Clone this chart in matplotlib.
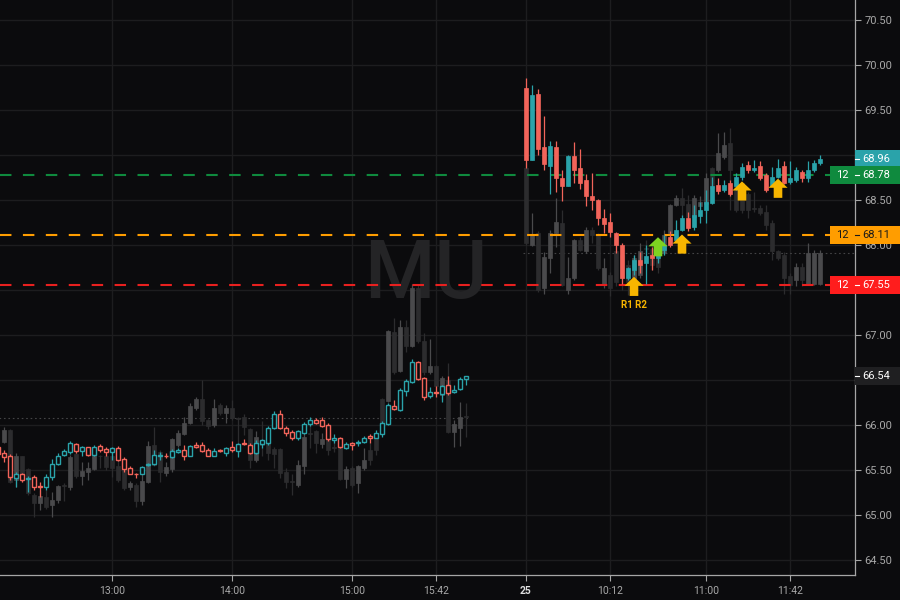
import numpy as np
import matplotlib
matplotlib.use("Agg")
import matplotlib.pyplot as plt
from matplotlib.path import Path
from matplotlib.patches import Rectangle
import matplotlib.transforms as mtransforms

# ---- MU, 3 min bars, day 1 (12:03 - 15:57), bar index 0..78
o1 = [65.76,65.69,65.65,65.41,65.45,65.40,65.42,65.32,65.31,65.42,
      65.57,65.67,65.70,65.79,65.71,65.75,65.67,65.77,65.73,65.70,
      65.74,65.62,65.52,65.46,65.46,65.55,65.57,65.66,65.66,65.64,
      65.70,65.72,65.66,65.78,65.78,65.72,65.66,65.72,65.69,65.76,
      65.71,65.80,65.78,65.69,65.79,65.80,65.97,66.12,65.97,65.92,
      65.85,65.91,66.01,66.06,66.06,66.00,65.83,65.85,65.74,65.80,
      65.80,65.81,65.88,65.86,65.90,66.01,66.21,66.17,66.38,66.48,
      66.70,66.52,66.32,66.37,66.34,66.44,66.37,66.40,66.51]
h1 = [65.78,65.72,65.68,65.48,65.47,65.43,65.44,65.37,65.46,65.62,
      65.69,65.73,65.82,65.80,65.77,65.76,65.78,65.79,65.76,65.76,
      65.77,65.64,65.54,65.47,65.54,65.58,65.72,65.70,65.69,65.73,
      65.74,65.78,65.78,65.81,65.81,65.74,65.74,65.73,65.75,65.82,
      65.80,65.84,65.80,65.83,65.84,65.99,66.15,66.17,65.99,65.94,
      65.94,66.03,66.09,66.08,66.09,66.02,65.90,65.87,65.81,65.81,
      65.83,65.88,65.90,65.94,66.04,66.24,66.28,66.41,66.51,66.73,
      66.71,66.53,66.42,66.43,66.44,66.54,66.44,66.53,66.54]
l1 = [65.63,65.59,65.39,65.31,65.37,65.26,65.28,65.20,65.28,65.39,
      65.56,65.65,65.68,65.69,65.65,65.66,65.66,65.70,65.65,65.61,
      65.60,65.48,65.45,65.41,65.45,65.54,65.56,65.61,65.63,65.63,
      65.69,65.61,65.65,65.74,65.70,65.65,65.65,65.70,65.65,65.70,
      65.64,65.78,65.68,65.68,65.74,65.78,65.95,65.95,65.88,65.83,
      65.83,65.90,65.99,66.01,65.98,65.82,65.80,65.74,65.73,65.72,
      65.77,65.80,65.80,65.85,65.87,66.00,66.17,66.16,66.32,66.47,
      66.50,66.28,66.30,66.31,66.26,66.33,66.35,66.39,66.44]
c1 = [65.68,65.64,65.42,65.46,65.39,65.41,65.31,65.31,65.42,65.57,
      65.66,65.71,65.80,65.71,65.76,65.67,65.76,65.72,65.70,65.74,
      65.61,65.51,65.46,65.45,65.53,65.57,65.67,65.67,65.65,65.71,
      65.72,65.66,65.77,65.75,65.71,65.66,65.71,65.71,65.74,65.72,
      65.79,65.79,65.69,65.80,65.83,65.97,66.12,65.97,65.91,65.85,
      65.93,66.01,66.05,66.02,65.99,65.84,65.86,65.75,65.79,65.78,
      65.81,65.86,65.86,65.91,66.02,66.22,66.18,66.39,66.49,66.70,
      66.51,66.31,66.37,66.35,66.43,66.36,66.39,66.51,66.54]

# ---- MU day 2 (the 25th, 09:30 - 11:57), bar index 88..137
o2 = [69.74,68.94,69.68,69.09,68.88,69.09,68.74,68.66,68.99,68.86,
      68.72,68.54,68.50,68.30,68.26,68.13,68.00,67.63,67.72,67.83,
      67.80,67.89,67.85,67.94,68.09,68.06,68.17,68.30,68.20,68.32,
      68.39,68.47,68.67,68.61,68.69,68.65,68.76,68.89,68.83,68.88,
      68.78,68.65,68.76,68.88,68.70,68.72,68.81,68.74,68.83,68.91]
h2 = [69.85,69.78,69.73,69.43,69.15,69.15,68.83,69.00,69.14,69.07,
      68.79,68.80,68.51,68.40,68.35,68.14,68.02,67.76,67.89,67.92,
      68.00,67.98,67.98,68.11,68.15,68.28,68.33,68.37,68.44,68.48,
      68.61,68.76,68.74,68.72,68.72,68.80,68.91,68.93,68.94,68.93,
      68.80,68.87,68.96,68.93,68.93,68.87,68.83,68.93,68.94,69.00]
l2 = [68.85,68.94,69.00,68.83,68.57,68.59,68.49,68.65,68.69,68.62,
      68.43,68.39,68.22,68.13,68.09,67.91,67.57,67.61,67.67,67.69,
      67.57,67.72,67.80,67.89,67.98,68.04,68.15,68.15,68.17,68.24,
      68.24,68.46,68.57,68.59,68.54,68.61,68.72,68.80,68.81,68.72,
      68.59,68.65,68.74,68.68,68.68,68.70,68.70,68.70,68.81,68.89]
c2 = [68.94,69.67,69.07,68.90,69.10,68.74,68.65,68.99,68.83,68.69,
      68.54,68.50,68.30,68.23,68.14,68.00,67.63,67.74,67.83,67.78,
      67.88,67.85,67.94,68.00,68.00,68.17,68.30,68.19,68.33,68.39,
      68.48,68.66,68.60,68.67,68.57,68.76,68.87,68.83,68.85,68.74,
      68.61,68.76,68.85,68.69,68.74,68.83,68.74,68.83,68.91,68.96]

# ---- grey comparison series, same bars
nan = np.nan
go1 = [nan,65.81,65.94,65.39,65.65,65.51,65.22,65.13,65.20,65.11,
       65.17,65.33,65.31,65.68,65.43,65.48,65.51,65.66,65.66,65.66,
       65.54,65.50,65.31,65.33,65.15,65.37,65.78,65.70,65.47,65.51,
       65.78,65.90,66.02,66.19,66.29,66.05,66.00,66.22,66.13,66.19,
       66.08,66.09,65.96,65.61,65.79,65.81,65.73,65.73,65.48,65.38,
       65.33,65.54,65.91,65.93,65.79,65.83,65.75,65.74,65.40,65.52,
       65.35,65.52,65.72,65.86,66.29,66.27,67.03,66.60,67.09,66.88,
       67.52,66.93,66.59,66.65,66.33,66.50,65.92,65.97,66.10]
gh1 = [nan,65.98,65.95,65.69,65.66,65.52,65.24,65.28,65.28,65.26,
       65.33,65.35,65.67,65.70,65.59,65.59,65.67,65.67,65.68,65.70,
       65.67,65.52,65.38,65.35,65.50,65.82,65.98,65.72,65.59,65.85,
       65.94,66.09,66.24,66.31,66.50,66.07,66.29,66.24,66.22,66.28,
       66.09,66.12,65.97,65.93,66.04,65.83,65.76,65.74,65.52,65.46,
       65.61,65.91,66.00,65.94,65.91,65.88,65.83,65.78,65.54,65.54,
       65.56,65.74,65.80,65.91,66.30,67.06,67.19,67.17,67.17,67.57,
       67.56,67.02,66.95,66.67,66.54,66.69,66.06,66.25,66.24]
gl1 = [nan,65.80,65.35,65.31,65.37,65.22,64.98,65.05,65.07,64.98,
       65.13,65.15,65.28,65.41,65.33,65.39,65.50,65.52,65.50,65.42,
       65.37,65.28,65.28,65.09,65.11,65.35,65.54,65.37,65.43,65.48,
       65.76,65.89,66.01,66.17,66.00,65.96,65.98,66.11,66.02,66.06,
       65.66,65.89,65.52,65.59,65.65,65.61,65.52,65.41,65.30,65.22,
       65.31,65.46,65.74,65.69,65.74,65.67,65.70,65.39,65.30,65.31,
       65.24,65.50,65.56,65.67,65.98,66.26,66.57,66.59,66.81,66.87,
       66.91,66.56,66.57,66.39,66.28,65.91,65.76,65.77,65.87]
gc1 = [nan,65.94,65.37,65.66,65.39,65.24,65.13,65.21,65.09,65.17,
       65.32,65.32,65.64,65.43,65.49,65.52,65.66,65.65,65.53,65.52,
       65.39,65.30,65.35,65.16,65.38,65.77,65.56,65.48,65.53,65.84,
       65.91,66.02,66.21,66.29,66.04,65.99,66.19,66.13,66.19,66.08,
       66.07,65.98,65.61,65.87,65.78,65.69,65.68,65.47,65.37,65.37,
       65.56,65.87,65.90,65.80,65.84,65.72,65.74,65.40,65.51,65.33,
       65.54,65.61,65.61,65.72,66.01,67.04,66.59,67.09,66.88,67.52,
       66.93,66.59,66.65,66.43,66.52,65.92,66.01,66.09,66.09]
go2 = [68.85,68.00,68.13,67.52,67.86,68.13,68.24,67.50,67.63,68.06,
       67.93,68.17,68.11,67.57,67.67,67.93,67.89,67.78,67.59,67.67,
       67.97,67.96,67.93,67.91,68.13,68.44,68.52,68.46,68.31,68.43,
       68.46,68.85,68.83,68.98,69.13,68.72,68.69,68.57,68.41,68.41,
       68.37,68.24,67.93,67.89,67.65,67.61,67.76,67.57,67.57,67.57]
gh2 = [68.91,68.35,68.15,67.92,68.17,68.52,68.39,67.87,68.07,68.09,
       68.20,68.20,68.13,67.85,67.70,68.04,67.94,67.83,67.89,68.02,
       68.06,68.00,67.98,68.17,68.46,68.55,68.63,68.55,68.55,68.54,
       68.80,68.87,69.24,69.26,69.30,68.74,68.70,68.59,68.59,68.44,
       68.44,68.28,67.94,67.92,67.69,67.80,67.80,68.02,67.94,67.94]
gl2 = [68.00,67.99,67.48,67.46,67.69,67.98,67.54,67.46,67.61,67.93,
       67.91,68.02,67.72,67.52,67.43,67.54,67.50,67.44,67.50,67.63,
       67.85,67.72,67.69,67.89,68.02,68.43,68.20,68.24,68.28,68.37,
       68.35,68.46,68.81,68.96,68.39,68.37,68.35,68.30,68.37,68.33,
       68.17,67.83,67.83,67.46,67.46,67.54,67.54,67.56,67.56,67.56]
gc2 = [68.02,68.11,67.50,67.87,68.13,68.26,67.56,67.63,68.06,67.94,
       68.17,68.11,67.74,67.74,67.52,67.59,67.63,67.59,67.85,67.93,
       67.96,67.78,67.76,68.11,68.44,68.52,68.44,68.31,68.52,68.48,
       68.74,68.63,69.02,69.11,68.83,68.39,68.39,68.39,68.40,68.35,
       68.22,67.93,67.85,67.63,67.56,67.76,67.61,67.91,67.91,67.91]

day2_start = 88

# alert levels
levels = [68.78, 68.11, 67.55]
level_colors = ['#0f8a3e', '#ff9d00', '#e8201f']
level_box = ['#0f8a3e', '#ff9d00', '#ff1d1d']
level_txt = ['white', '#1a1a1a', 'white']
level_count = '12'

last_price = 68.96
prev_close = 66.54
dotted = [(66.08, 0, 78.5), (67.91, 87.5, 143)]

# signal arrows
arrow_x = [106, 110, 114, 124, 130]
arrow_y = [67.54, 67.98, 68.01, 68.60, 68.63]
arrow_c = ['#f7b500', '#7ed321', '#f7b500', '#f7b500', '#f7b500']

tick_pos = [19, 39, 59, 73, 88, 102, 118, 132]
tick_lab = ['13:00', '14:00', '15:00', '15:42', '25', '10:12', '11:00', '11:42']

yticks = [64.5, 65.0, 65.5, 66.0, 66.5, 67.0, 67.5, 68.0, 68.5, 69.0, 69.5, 70.0, 70.5]
hidden_yticks = [66.5, 67.5, 69.0]   # sit under the price boxes

BG = '#0b0b0d'
TEAL = '#2aa3aa'
RED = '#f2645a'
GRID = '#1d1d1f'
AXC = '#a6a6a6'

plt.rcParams['font.family'] = ['Roboto', 'DejaVu Sans']

fig = plt.figure(figsize=(9, 6), dpi=100, facecolor=BG)
ax = fig.add_axes([0, 25 / 600, 855 / 900, 575 / 600], facecolor=BG)


def candles(x, o, h, l, c, up, dn, face_up, face_dn, z, w=0.78, lw=0.9):
    x = np.asarray(x, float)
    o, h, l, c = (np.asarray(v, float) for v in (o, h, l, c))
    ok = ~np.isnan(o)
    x, o, h, l, c = x[ok], o[ok], h[ok], l[ok], c[ok]
    rising = c >= o
    edge = np.where(rising, up, dn)
    face = np.where(rising, face_up, face_dn)
    ax.vlines(x, l, h, colors=edge, lw=0.9, zorder=z)
    bottom = np.minimum(o, c)
    height = np.maximum(np.abs(c - o), 0.006)
    ax.bar(x, height, w, bottom, color=face, edgecolor=edge, lw=lw, zorder=z + 0.1)


x1 = np.arange(len(o1))
x2 = np.arange(len(o2)) + day2_start

# grey overlay first
candles(x1, go1, gh1, gl1, gc1, '#4a4a4c', '#2c2c2e', '#4a4a4c', '#2c2c2e', 2, lw=0.5)
candles(x2, go2, gh2, gl2, gc2, '#4a4a4c', '#2c2c2e', '#4a4a4c', '#2c2c2e', 2, lw=0.5)

# MU: day 1 hollow, day 2 filled
candles(x1, o1, h1, l1, c1, TEAL, RED, BG, BG, 4, w=0.72, lw=1.0)
candles(x2, o2, h2, l2, c2, TEAL, RED, TEAL, RED, 4, lw=0.5)

# watermark
ax.text(0.498, 0.52, 'MU', transform=ax.transAxes, ha='center', va='center',
        fontsize=58, fontweight='medium', color='#242426', zorder=1)

# dotted reference lines
for y, xa, xb in dotted:
    ax.hlines(y, xa, xb, colors='#444446', linestyles=(0, (1.5, 2.5)), lw=0.8, zorder=1.5)

# alert level lines
for lv, col in zip(levels, level_colors):
    ax.axhline(lv, xmin=0, xmax=830 / 855, color=col, lw=1.5,
               linestyle=(0, (5.5, 5.5)), zorder=3)

# arrows
arrow_path = Path([(0, 1), (-1, 0.05), (-0.45, 0.05), (-0.45, -1),
                   (0.45, -1), (0.45, 0.05), (1, 0.05), (0, 1)],
                  [Path.MOVETO] + [Path.LINETO] * 6 + [Path.CLOSEPOLY])
ax.scatter(arrow_x, arrow_y, s=190, marker=arrow_path, c=arrow_c,
           linewidths=0, zorder=6)
ax.text(arrow_x[0], arrow_y[0] - 0.21, 'R1 R2', color='#f7b500', fontsize=7,
        fontweight='bold', ha='center', va='center', zorder=6)

# axes limits / ticks
ax.set_xlim(1 / 3, 857 / 6)
ax.set_ylim(64.333, 70.722)
ax.set_yticks(yticks)
ax.set_yticklabels(['' if v in hidden_yticks else '%.2f' % v for v in yticks])
ax.yaxis.tick_right()
ax.tick_params(axis='y', colors=AXC, labelcolor='#a8a8a8', length=4, width=0.8,
               pad=3, labelsize=8)
ax.set_xticks(tick_pos)
ax.set_xticklabels(tick_lab)
ax.tick_params(axis='x', colors=AXC, labelcolor='#a8a8a8', length=4, width=0.8,
               pad=4, labelsize=7.5)
for t in ax.get_xticklabels():
    if t.get_text() == '25':
        t.set_fontweight('bold')
        t.set_color('#dddddd')
ax.grid(True, color=GRID, lw=1.0, zorder=0)
ax.set_axisbelow(True)
for s in ['left', 'top']:
    ax.spines[s].set_visible(False)
for s in ['right', 'bottom']:
    ax.spines[s].set_color(AXC)
    ax.spines[s].set_linewidth(0.9)

# right-hand price labels
tr = mtransforms.blended_transform_factory(ax.transAxes, ax.transData)
bw = 45 / 855
hb = 0.2
tick_w = 4 / 855


def price_label(y, bg, fg, count=None, cbg=None):
    ax.add_patch(Rectangle((1.0, y - hb / 2), bw, hb, transform=tr,
                           facecolor=bg, edgecolor='none', clip_on=False, zorder=10))
    ax.plot([1.0, 1.0 + tick_w], [y, y], transform=tr, color=fg, lw=0.8,
            clip_on=False, zorder=11)
    ax.text(1.0 + 7 / 855, y, '%.2f' % y, transform=tr, color=fg, fontsize=8,
            ha='left', va='center', zorder=11, clip_on=False)
    if count is not None:
        ax.add_patch(Rectangle((830 / 855, y - hb / 2), 25 / 855, hb, transform=tr,
                               facecolor=cbg, edgecolor='none', clip_on=False, zorder=10))
        ax.text(842.5 / 855, y, count, transform=tr, color=fg, fontsize=8,
                ha='center', va='center', zorder=11)


price_label(prev_close, '#1f1f21', 'white')
price_label(last_price, TEAL, 'white')
for lv, bg, fg in zip(levels, level_box, level_txt):
    price_label(lv, bg, fg, level_count, bg)

fig.savefig('out.png', dpi=100, facecolor=BG)
